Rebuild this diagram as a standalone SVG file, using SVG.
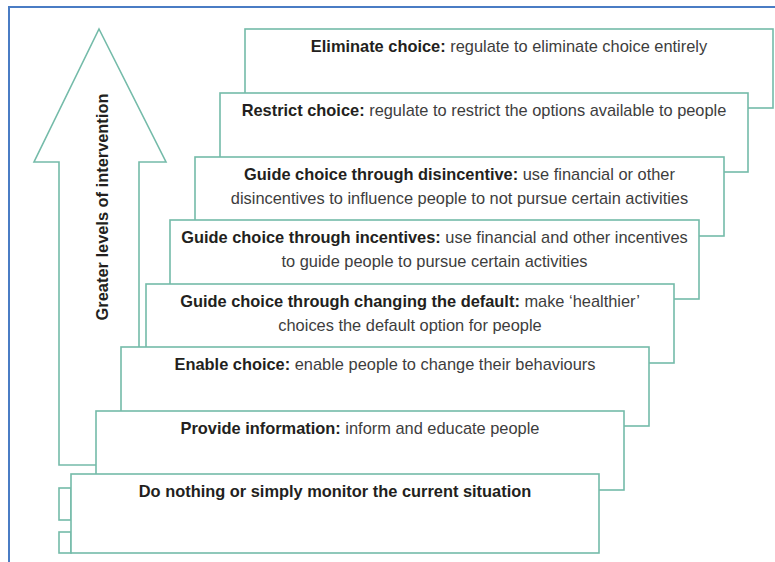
<svg xmlns="http://www.w3.org/2000/svg" width="775" height="562" viewBox="0 0 775 562">
<style>
.box{fill:#ffffff;stroke:#74bba9;stroke-width:1.6}
.t{font-family:"Liberation Sans",Arial,sans-serif;font-size:16.4px;fill:#3d3d3d;text-anchor:middle}
.b{font-weight:bold;fill:#231f20}
.frame{fill:none;stroke:#4a7cc4;stroke-width:2}
</style>
<rect width="775" height="562" fill="#ffffff"/>
<path class="frame" d="M9,562 V7 H775"/>
<g id="arrow">
<polygon class="box" points="99,29 166,162 139,162 139,465 59,465 59,162 34,162"/>
<text class="t b" transform="translate(108,207) rotate(-90)">Greater levels of intervention</text>
</g>
<g id="connectors"/>
<g id="stubs">
<rect class="box" x="59" y="488" width="12" height="32"/>
<rect class="box" x="59" y="532" width="12" height="21"/>
</g>
<g id="eliminate">
<rect class="box" x="245" y="29" width="528" height="79"/>
<text class="t" x="509" y="52"><tspan class="b">Eliminate choice:</tspan> regulate to eliminate choice entirely</text>
</g>
<g id="restrict">
<rect class="box" x="220" y="93" width="528" height="79"/>
<text class="t" x="484" y="116"><tspan class="b">Restrict choice:</tspan> regulate to restrict the options available to people</text>
</g>
<g id="disincentive">
<rect class="box" x="195" y="157" width="529" height="79"/>
<text class="t" x="459.5" y="180"><tspan class="b">Guide choice through disincentive:</tspan> use financial or other</text>
<text class="t" x="459.5" y="204">disincentives to influence people to not pursue certain activities</text>
</g>
<g id="incentives">
<rect class="box" x="170" y="220" width="529" height="79"/>
<text class="t" x="434.5" y="243"><tspan class="b">Guide choice through incentives:</tspan> use financial and other incentives</text>
<text class="t" x="434.5" y="267">to guide people to pursue certain activities</text>
</g>
<g id="default">
<rect class="box" x="146" y="284" width="528" height="79"/>
<text class="t" x="410" y="307"><tspan class="b">Guide choice through changing the default:</tspan> make ‘healthier’</text>
<text class="t" x="410" y="331">choices the default option for people</text>
</g>
<g id="enable">
<rect class="box" x="121" y="347" width="528" height="79"/>
<text class="t" x="385" y="370"><tspan class="b">Enable choice:</tspan> enable people to change their behaviours</text>
</g>
<g id="inform">
<rect class="box" x="96" y="411" width="528" height="79"/>
<text class="t" x="360" y="434"><tspan class="b">Provide information:</tspan> inform and educate people</text>
</g>
<g id="nothing">
<rect class="box" x="71" y="474" width="528" height="79"/>
<text class="t b" x="335" y="497">Do nothing or simply monitor the current situation</text>
</g>
</svg>
